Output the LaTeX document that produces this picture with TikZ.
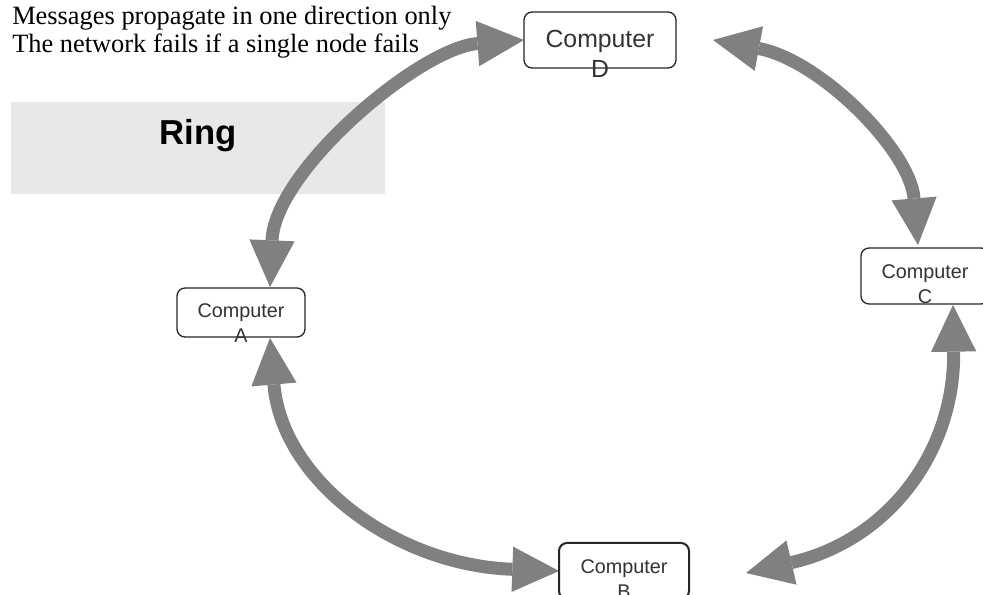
\documentclass[tikz,border=0pt]{standalone}
\usepackage{fontspec}
\setmainfont{Liberation Serif}
\newfontfamily\boxfont{Liberation Sans}
\usetikzlibrary{arrows.meta,calc}
\definecolor{ringgray}{HTML}{808080}
\definecolor{panelgray}{HTML}{E8E8E8}
\definecolor{txtgray}{HTML}{333333}
\begin{document}
\begin{tikzpicture}[x=0.75pt,y=-0.75pt,
  compbox/.style={draw=black!85, line width=1pt, rounded corners=6pt, fill=white, inner sep=0pt, outer sep=0pt},
  comptext/.style={text=txtgray, align=center, inner sep=0pt, font=\boxfont\fontsize{14.85}{18.75}\selectfont},
  bigtext/.style={text=txtgray, align=center, inner sep=0pt, font=\boxfont\fontsize{18.6}{22.5}\selectfont},
  ringtip/.tip={Triangle[length=35pt,width=34pt,line width=0pt]},
  ringarrow/.style={draw=ringgray, fill=none, line width=9.75pt, ringtip-ringtip},
  note/.style={anchor=base west, inner sep=0pt, font=\fontsize{19.8}{21}\selectfont}
]
\useasboundingbox (0,0) rectangle (983,595);
\clip (0,0) rectangle (983,595);
\fill[panelgray] (11,102) rectangle (385,194);
\node[anchor=base, inner sep=0pt, font=\boxfont\bfseries\fontsize{26}{30}\selectfont] (ring) at (198,145) {Ring};
\node[note] (msg1) at (12,25) {Messages propagate in one direction only};
\node[note] (msg2) at (12,53) {The network fails if a single node fails};

% boxes (shapes)
\node[compbox, minimum width=114pt, minimum height=42pt] (D) at (600,40) {};
\node[compbox, minimum width=96pt, minimum height=36.75pt] (A) at (241,312.5) {};
\node[compbox, minimum width=96pt, minimum height=42pt] (C) at (925,276) {};
\node[compbox, line width=1.5pt, minimum width=97.5pt, minimum height=42pt] (B) at (624,571) {};

% connectors
\draw[ringarrow] ($(A.north)+(29,-1)$) .. controls +(5,-117) and +(-104,8) .. (D.west);
\draw[ringarrow] ($(D.east)+(37,0)$) .. controls +(107,20) and +(-8,-95) .. ($(C.north)+(-7,-3)$);
\draw[ringarrow] ($(C.south)+(28,1)$) .. controls +(2,145) and +(144,-33) .. ($(B.east)+(57,2)$);
\draw[ringarrow] ($(A.south)+(29,1)$) .. controls +(12,142) and +(-164,-6) .. (B.west);

% labels
\node[bigtext] (Dt) at (600,54) {Computer\\D};
\node[comptext] (At) at (241,323) {Computer\\A};
\node[comptext] (Ct) at (925,284) {Computer\\C};
\node[comptext] (Bt) at (624,579) {Computer\\B};
\end{tikzpicture}
\end{document}
